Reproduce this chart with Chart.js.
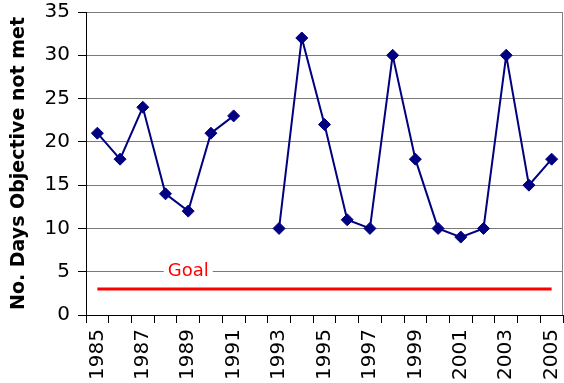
<!DOCTYPE html>
<html>
<head>
<meta charset="utf-8">
<script src="https://cdn.jsdelivr.net/npm/chart.js@4/dist/chart.umd.min.js"></script>
<style>
  html, body { margin: 0; padding: 0; background: #fff; }
  #wrap { width: 564px; height: 383px; }
</style>
</head>
<body>
<div id="wrap"><canvas id="c" width="564" height="383"></canvas></div>
<script>
// Years on the category axis
const years = ['1985','1986','1987','1988','1989','1990','1991','1992','1993','1994',
               '1995','1996','1997','1998','1999','2000','2001','2002','2003','2004','2005'];
// Days per year on which the objective was not met (no record for 1992)
const daysNotMet = [21, 18, 24, 14, 12, 21, 23, null, 10, 32, 22, 11, 10, 30, 18, 10, 9, 10, 30, 15, 18];
// Target level
const goalValue = 3;
const goalLabel = 'Goal';
const goalLabelYear = '1989';
const goalLabelLevel = 5;
// Y axis range
const yMin = 0, yMax = 35, yStep = 5;

const goalSeries = years.map(() => goalValue);

// Draws the "Goal" caption on a white patch, and the plot's right border
const goalCaption = {
  id: 'goalCaption',
  afterDatasetsDraw(chart) {
    const { ctx, chartArea, scales } = chart;
    ctx.save();
    ctx.strokeStyle = '#808080';
    ctx.lineWidth = 1;
    ctx.beginPath();
    ctx.moveTo(chartArea.right - 0.5, chartArea.top);
    ctx.lineTo(chartArea.right - 0.5, chartArea.bottom);
    ctx.stroke();

    const x = scales.x.getPixelForValue(years.indexOf(goalLabelYear));
    const y = scales.y.getPixelForValue(goalLabelLevel);
    ctx.font = '18px "DejaVu Sans"';
    const w = ctx.measureText(goalLabel).width;
    ctx.fillStyle = '#ffffff';
    ctx.fillRect(x - w / 2 - 4, y - 9, w + 8, 18);
    ctx.fillStyle = '#ff0000';
    ctx.textAlign = 'center';
    ctx.textBaseline = 'middle';
    ctx.fillText(goalLabel, x, y);
    ctx.restore();
  }
};

new Chart(document.getElementById('c'), {
  type: 'line',
  data: {
    labels: years,
    datasets: [
      {
        label: 'Days not met',
        data: daysNotMet,
        borderColor: '#000080',
        backgroundColor: '#000080',
        borderWidth: 2,
        pointStyle: 'rectRot',
        pointRadius: 6,
        pointBorderWidth: 1,
        spanGaps: false,
        tension: 0
      },
      {
        label: goalLabel,
        data: goalSeries,
        borderColor: '#ff0000',
        backgroundColor: '#ff0000',
        borderWidth: 3,
        pointRadius: 0,
        tension: 0
      }
    ]
  },
  options: {
    responsive: false,
    animation: false,
    devicePixelRatio: 1,
    layout: { autoPadding: false, padding: { left: 0, right: 1, top: 0, bottom: 0 } },
    plugins: {
      legend: { display: false },
      tooltip: { enabled: false }
    },
    scales: {
      x: {
        type: 'category',
        offset: true,
        border: { display: true, color: '#000000', width: 1 },
        grid: {
          offset: true,
          drawOnChartArea: false,
          drawTicks: true,
          tickLength: 8,
          tickColor: '#000000',
          color: '#000000'
        },
        ticks: {
          autoSkip: false,
          maxRotation: 90,
          minRotation: 90,
          padding: 6,
          color: '#000000',
          font: { family: '"DejaVu Sans"', size: 20 },
          callback: function(value, index) {
            return index % 2 === 0 ? years[index] : '';
          }
        },
        afterFit(scale) {
          scale.height = 68;
          scale.paddingLeft = 0;
          scale.paddingRight = 0;
        }
      },
      y: {
        min: yMin,
        max: yMax,
        border: { display: true, color: '#000000', width: 1 },
        grid: {
          color: '#7a7a7a',
          lineWidth: 1,
          drawTicks: true,
          tickLength: 8,
          tickColor: '#000000'
        },
        ticks: {
          stepSize: yStep,
          padding: 8,
          color: '#000000',
          font: { family: '"DejaVu Sans"', size: 20 }
        },
        title: {
          display: true,
          text: 'No. Days Objective not met',
          color: '#000000',
          padding: { top: 8, bottom: 0 },
          font: { family: '"DejaVu Sans"', size: 19, weight: 'bold' }
        },
        afterFit(scale) {
          scale.width = 86;
          scale.paddingTop = 12;
          scale.paddingBottom = 0;
        }
      }
    }
  },
  plugins: [goalCaption]
});
</script>
</body>
</html>
